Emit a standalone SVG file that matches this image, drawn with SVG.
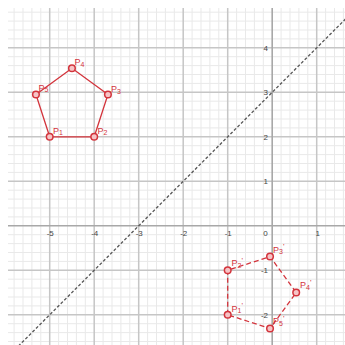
<svg xmlns="http://www.w3.org/2000/svg" width="345" height="345" viewBox="0 0 345 345">
<style>
.minor{stroke:#e9e9e9;stroke-width:1;fill:none}
.major{stroke:#c6c6c6;stroke-width:1.5;fill:none}
.axis{stroke:#a8a8a8;stroke-width:1.6;fill:none}
.tick{font-family:"Liberation Sans",Arial,sans-serif;font-size:8px;fill:#444}
.poly{fill:none;stroke:#d3343c;stroke-width:1.3}
.image{fill:none;stroke:#d3343c;stroke-width:1.3;stroke-dasharray:5 3}
.pt{fill:#f6c4c6;stroke:#d3343c;stroke-width:1.5}
.lbl{font-family:"Liberation Sans",Arial,sans-serif;font-size:9px;fill:#d3343c}
.sub{font-size:7px}
.prm{font-size:8px}
.mirror{stroke:#555;stroke-width:1.3;stroke-dasharray:3 2;fill:none}
</style>
<defs>
<clipPath id="area"><rect x="8" y="8" width="337" height="337"/></clipPath>
</defs>
<rect width="345" height="345" fill="#fff"/>
<g id="grid" clip-path="url(#area)">
<path class="minor" d="M14.1 8V345M23 8V345M31.9 8V345M40.8 8V345M58.6 8V345M67.5 8V345M76.4 8V345M85.3 8V345M103.1 8V345M112 8V345M120.9 8V345M129.8 8V345M147.6 8V345M156.5 8V345M165.4 8V345M174.3 8V345M192.1 8V345M201 8V345M209.9 8V345M218.8 8V345M236.6 8V345M245.5 8V345M254.4 8V345M263.3 8V345M281.1 8V345M290 8V345M298.9 8V345M307.8 8V345M325.6 8V345M334.5 8V345M343.4 8V345
M8 12.2H345M8 21.1H345M8 30H345M8 38.9H345M8 56.7H345M8 65.6H345M8 74.5H345M8 83.4H345M8 101.2H345M8 110.1H345M8 119H345M8 127.9H345M8 145.7H345M8 154.6H345M8 163.5H345M8 172.4H345M8 190.2H345M8 199.1H345M8 208H345M8 216.9H345M8 234.7H345M8 243.6H345M8 252.5H345M8 261.4H345M8 279.2H345M8 288.1H345M8 297H345M8 305.9H345M8 323.7H345M8 332.6H345M8 341.5H345"/>
<path class="major" d="M49.7 8V345M94.2 8V345M138.7 8V345M183.2 8V345M227.7 8V345M316.7 8V345M8 47.8H345M8 92.3H345M8 136.8H345M8 181.3H345M8 270.3H345M8 314.8H345"/>
<path class="axis" d="M272.2 8V345M8 225.8H345"/>
</g>
<g id="ticks" class="tick">
<text x="50.2" y="235.5" text-anchor="middle">-5</text>
<text x="94.7" y="235.5" text-anchor="middle">-4</text>
<text x="139.2" y="235.5" text-anchor="middle">-3</text>
<text x="183.7" y="235.5" text-anchor="middle">-2</text>
<text x="228.2" y="235.5" text-anchor="middle">-1</text>
<text x="265.5" y="235.5" text-anchor="middle">0</text>
<text x="317.7" y="235.5" text-anchor="middle">1</text>
<text x="268" y="50.6" text-anchor="end">4</text>
<text x="268" y="95.1" text-anchor="end">3</text>
<text x="268" y="139.6" text-anchor="end">2</text>
<text x="268" y="184.1" text-anchor="end">1</text>
<text x="268" y="273.1" text-anchor="end">-1</text>
<text x="268" y="317.6" text-anchor="end">-2</text>
</g>
<g id="connectors">
<g id="mirror-line" clip-path="url(#area)">
<line class="mirror" x1="-17.05" y1="381.55" x2="361.2" y2="3.3"/>
</g>
<polygon id="pentagon-edges" class="poly" points="49.7,136.8 94.2,136.8 107.95,94.48 71.95,68.31 35.95,94.48"/>
<polygon id="image-edges" class="image" points="227.7,314.8 227.7,270.3 270.02,256.55 296.19,292.55 270.02,328.55"/>
</g>
<g id="P1"><circle class="pt" cx="49.7" cy="136.8" r="3.3"/><text class="lbl" x="53" y="133.5">P<tspan class="sub" dy="1.5">1</tspan></text></g>
<g id="P2"><circle class="pt" cx="94.2" cy="136.8" r="3.3"/><text class="lbl" x="97.5" y="133.5">P<tspan class="sub" dy="1.5">2</tspan></text></g>
<g id="P3"><circle class="pt" cx="107.95" cy="94.48" r="3.3"/><text class="lbl" x="111" y="92">P<tspan class="sub" dy="1.5">3</tspan></text></g>
<g id="P4"><circle class="pt" cx="71.95" cy="68.31" r="3.3"/><text class="lbl" x="74.5" y="65">P<tspan class="sub" dy="1.5">4</tspan></text></g>
<g id="P5"><circle class="pt" cx="35.95" cy="94.48" r="3.3"/><text class="lbl" x="38.5" y="90.5">P<tspan class="sub" dy="1.5">5</tspan></text></g>
<g id="P1p"><circle class="pt" cx="227.7" cy="314.8" r="3.3"/><text class="lbl" x="231.5" y="311.5">P<tspan class="sub" dy="1.5">1</tspan><tspan class="prm" dy="-5">'</tspan></text></g>
<g id="P2p"><circle class="pt" cx="227.7" cy="270.3" r="3.3"/><text class="lbl" x="231.5" y="266">P<tspan class="sub" dy="1.5">2</tspan><tspan class="prm" dy="-5">'</tspan></text></g>
<g id="P3p"><circle class="pt" cx="270.02" cy="256.55" r="3.3"/><text class="lbl" x="273" y="252.5">P<tspan class="sub" dy="1.5">3</tspan><tspan class="prm" dy="-5">'</tspan></text></g>
<g id="P4p"><circle class="pt" cx="296.19" cy="292.55" r="3.3"/><text class="lbl" x="300" y="288">P<tspan class="sub" dy="1.5">4</tspan><tspan class="prm" dy="-5">'</tspan></text></g>
<g id="P5p"><circle class="pt" cx="270.02" cy="328.55" r="3.3"/><text class="lbl" x="273" y="324">P<tspan class="sub" dy="1.5">5</tspan><tspan class="prm" dy="-5">'</tspan></text></g>
</svg>
